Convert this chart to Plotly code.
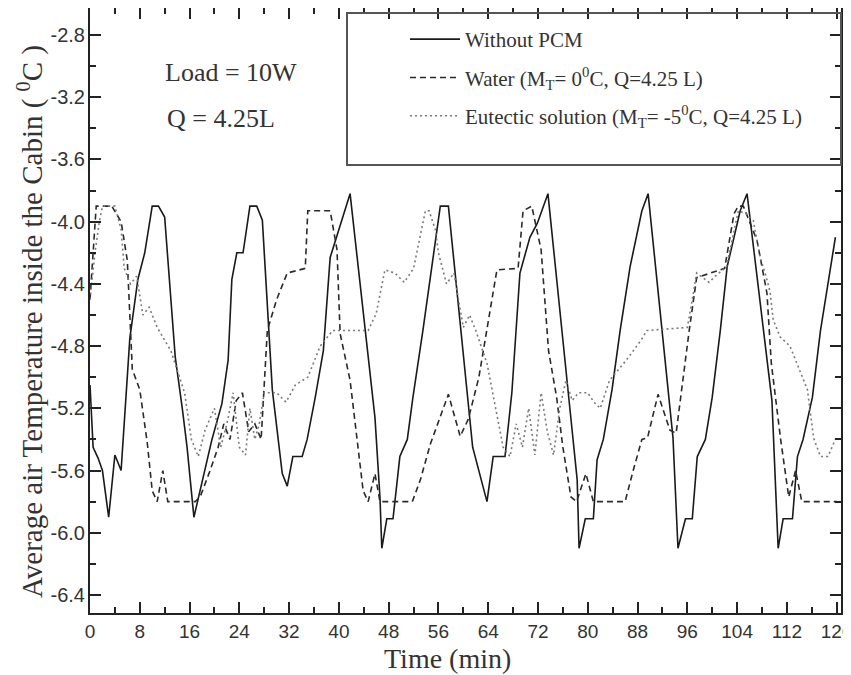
import plotly.graph_objects as go

# ---- data ----
t_nopcm = [0, 0.5, 1.3, 2, 3, 4, 5, 6.4, 7.7, 8.8, 10, 11, 12, 13.7, 14.8, 15.6, 16.7,
           17.7, 19.6, 21.2, 22.2, 22.8, 23.6, 24.6, 25.7, 26.8, 27.7, 29.3, 30.9, 31.7,
           32.6, 34.1, 34.9, 36.2, 37.5, 38.6, 40.7, 41.8, 45.8, 46.6, 46.9, 47.7, 48.7,
           49.8, 51, 51.9, 53.5, 56.3, 57.6, 61.5, 63.8, 64.8, 66.7, 67.8, 69.1, 70.7,
           71.9, 73.6, 77.2, 78.3, 78.6, 79.6, 80.9, 81.5, 82.5, 83.9, 85.2, 86.8, 88.7,
           89.7, 93.7, 94.5, 95.7, 96.8, 97.6, 98.9, 100, 101.3, 102.4, 104.5, 105.6,
           109.6, 110.6, 111.4, 112.9, 113.7, 114.6, 116.1, 117.4, 118.5, 119.8]
T_nopcm = [-5.05, -5.45, -5.52, -5.6, -5.9, -5.5, -5.6, -4.75, -4.37, -4.2, -3.9, -3.9, -3.97,
           -4.87, -5.19, -5.45, -5.9, -5.73, -5.4, -5.17, -4.89, -4.37, -4.2, -4.2, -3.9, -3.9,
           -3.99, -5.08, -5.62, -5.7, -5.51, -5.51, -5.4, -5.13, -4.83, -4.23, -3.95, -3.82,
           -5.26, -5.77, -6.1, -5.91, -5.91, -5.51, -5.4, -5.13, -4.7, -3.9, -3.9, -5.45,
           -5.8, -5.51, -5.51, -5.1, -4.33, -4.1, -4.01, -3.82, -5.23, -5.66, -6.1, -5.91,
           -5.91, -5.53, -5.4, -5.08, -4.7, -4.29, -3.93, -3.82, -5.39, -6.1, -5.91, -5.91,
           -5.51, -5.4, -5.13, -4.7, -4.29, -3.93, -3.82, -5.15, -6.1, -5.91, -5.91, -5.51,
           -5.4, -5.13, -4.7, -4.42, -4.1]

t_water = [0, 1, 3.5, 5, 6, 6.8, 8, 9.2, 10, 10.8, 11.7, 12.5, 16.9, 17.7, 19.3, 20.6, 21.5,
           22.5, 23.5, 24.5, 25.5, 26.5, 27.5, 28.5, 30, 31.7, 34.6, 35, 38.6, 39.7, 40.2,
           41.8, 43.9, 44.7, 45.8, 46.6, 51.8, 53.1, 54.7, 56.3, 57.6, 59.5, 60.8, 62.5,
           63.8, 65.4, 68.8, 69.6, 71, 72.5, 73.7, 75, 76, 77.3, 78.2, 79.7, 80.9, 86, 87.3,
           88.7, 89.6, 91.3, 93.2, 94.2, 96.3, 97.5, 102, 103.5, 104.2, 105, 107.2, 108.8,
           109.5, 111, 112.3, 113.4, 114.4, 120]
T_water = [-4.5, -3.9, -3.9, -4.0, -4.25, -4.95, -5.08, -5.42, -5.73, -5.8, -5.6, -5.8, -5.8,
           -5.77, -5.6, -5.45, -5.3, -5.4, -5.15, -5.1, -5.35, -5.3, -5.4, -4.7, -4.5, -4.33,
           -4.3, -3.93, -3.93, -4.18, -4.72, -5.02, -5.73, -5.8, -5.62, -5.8, -5.8, -5.66,
           -5.43, -5.26, -5.11, -5.38, -5.27, -5.0, -4.68, -4.31, -4.3, -3.93, -3.9, -4.18,
           -4.83, -5.13, -5.45, -5.77, -5.8, -5.62, -5.8, -5.8, -5.6, -5.4, -5.39, -5.11,
           -5.34, -5.36, -4.7, -4.36, -4.3, -3.95, -3.9, -3.9, -4.12, -4.46, -4.91, -5.4,
           -5.77, -5.6, -5.8, -5.8]

t_eut = [0, 0.8, 1.5, 2, 4, 5, 5.5, 6.5, 7.5, 8.5, 9.5, 10.8, 13, 14, 15.2, 16.3, 17.4, 18.5,
         20, 21, 22, 23, 24, 25, 25.7, 26.5, 27.2, 28, 30, 31.5, 33, 35, 37, 39, 44.7, 46,
         47.4, 49, 50.5, 52, 52.7, 53.9, 54.5, 55.5, 56, 57.3, 58.5, 60, 61, 62, 63.8, 65.4,
         66.4, 67.5, 68.5, 69.5, 70.5, 71.5, 72.5, 73.5, 74.5, 75.5, 76.5, 77.5, 78.5, 80,
         81, 82, 83.5, 86.2, 88.6, 89.5, 96, 96.8, 97.5, 99.5, 100.5, 102.3, 103.4, 104.2,
         105.5, 106.6, 107.7, 108.5, 109.3, 109.8, 110.9, 112.5, 113.8, 115.3, 116.3, 117.4,
         118.6, 119.8]
T_eut = [-4.5, -4.2, -4.0, -3.9, -3.9, -4.05, -4.3, -4.4, -4.35, -4.6, -4.55, -4.68, -4.83,
         -4.95, -5.1, -5.4, -5.51, -5.34, -5.2, -5.45, -5.3, -5.1, -5.45, -5.5, -5.2, -5.4,
         -5.3, -5.1, -5.1, -5.16, -5.05, -5.0, -4.8, -4.7, -4.7, -4.59, -4.31, -4.33, -4.39,
         -4.3, -4.16, -3.93, -3.93, -4.05, -4.2, -4.4, -4.33, -4.68, -4.6, -4.7, -4.91, -5.23,
         -5.45, -5.51, -5.3, -5.45, -5.2, -5.5, -5.1, -5.35, -5.5, -5.2, -5.02, -5.15, -5.1,
         -5.1, -5.16, -5.2, -5.02, -4.89, -4.76, -4.7, -4.68, -4.5, -4.33, -4.39, -4.35,
         -4.29, -4.08, -3.93, -3.95, -3.99, -4.23, -4.33, -4.45, -4.63, -4.74, -4.8, -4.93,
         -5.08, -5.39, -5.51, -5.51, -5.4]

x_ticks = list(range(0, 121, 8))
y_ticks = [-6.4, -6.0, -5.6, -5.2, -4.8, -4.4, -4.0, -3.6, -3.2, -2.8]

SERIF = "Liberation Serif, Times New Roman, serif"
SANS = "Liberation Sans, Arial, sans-serif"

# plot area in figure pixels (page is offset by the 8px body margin)
L, R, T, B = 82, 833, 0, 605
W, H = 851, 675


def px(xp):
    return (xp - L) / (R - L)


def py(yp):
    return 1 - (yp - T) / (B - T)


fig = go.Figure()
fig.add_trace(go.Scatter(x=t_nopcm, y=T_nopcm, mode="lines", name="Without PCM",
                         legendgroup="a",
                         line=dict(color="#1a1a1a", width=1.6, dash="solid")))
fig.add_trace(go.Scatter(x=t_water, y=T_water, mode="lines",
                         name="Water (M<sub>T</sub>= 0<sup>0</sup>C, Q=4.25 L)",
                         legendgroup="b",
                         line=dict(color="#2a2a2a", width=1.6, dash="6px,4px")))
fig.add_trace(go.Scatter(x=t_eut, y=T_eut, mode="lines",
                         name="Eutectic solution (M<sub>T</sub>= -5<sup>0</sup>C, Q=4.25 L)",
                         legendgroup="c",
                         line=dict(color="#7a7a7a", width=1.6, dash="2px,3px")))

axis_common = dict(showgrid=False, zeroline=False, showline=True, linecolor="#222",
                   linewidth=2, mirror="ticks", ticks="inside", tickcolor="#222",
                   tickwidth=1.5, ticklen=11, automargin=False,
                   ticklabeloverflow="allow")

fig.update_xaxes(range=[0, 120.7], tickmode="array", tickvals=x_ticks,
                 ticktext=[str(v) for v in x_ticks], ticklabelstandoff=0,
                 tickfont=dict(family=SANS, size=19, color="#333"),
                 minor=dict(dtick=4, ticks="inside", ticklen=6, tickcolor="#222", tickwidth=1.5),
                 **axis_common)
fig.update_yaxes(range=[-6.516, -2.626], tickmode="array", tickvals=y_ticks,
                 ticktext=["%.1f" % v for v in y_ticks], ticklabelstandoff=-1,
                 tickfont=dict(family=SANS, size=20, color="#333"),
                 minor=dict(dtick=0.2, tick0=-2.8, ticks="inside", ticklen=6, tickcolor="#222", tickwidth=1.5),
                 **axis_common)

# legend frame
fig.add_shape(type="rect", xref="paper", yref="paper",
              x0=px(339), x1=1.0, y0=py(157), y1=py(5),
              line=dict(color="#555", width=2), fillcolor="rgba(0,0,0,0)", layer="above")

fig.update_layout(
    width=W, height=H,
    margin=dict(l=L, r=W - R, t=T, b=H - B),
    paper_bgcolor="white", plot_bgcolor="white",
    showlegend=True,
    legend=dict(x=px(397), y=py(11), xanchor="left", yanchor="top",
                bgcolor="rgba(0,0,0,0)", borderwidth=0, tracegroupgap=8,
                font=dict(family=SERIF, size=21, color="#333"), itemwidth=50),
    annotations=[
        dict(text="Load = 10W", x=px(155), y=py(64), xref="paper", yref="paper",
             xanchor="left", yanchor="middle", showarrow=False,
             font=dict(family=SERIF, size=26, color="#333")),
        dict(text="Q = 4.25L", x=px(157), y=py(110), xref="paper", yref="paper",
             xanchor="left", yanchor="middle", showarrow=False,
             font=dict(family=SERIF, size=26, color="#333")),
        dict(text="Time (min)", x=px(439), y=py(650), xref="paper", yref="paper",
             xanchor="center", yanchor="middle", showarrow=False,
             font=dict(family=SERIF, size=28, color="#333")),
        dict(text="Average air Temperature inside the Cabin ( <sup>0</sup>C )",
             x=px(22), y=py(314), xref="paper", yref="paper", textangle=-90,
             xanchor="center", yanchor="middle", showarrow=False,
             font=dict(family=SERIF, size=29, color="#333")),
    ],
)

fig.write_html("out.html")
